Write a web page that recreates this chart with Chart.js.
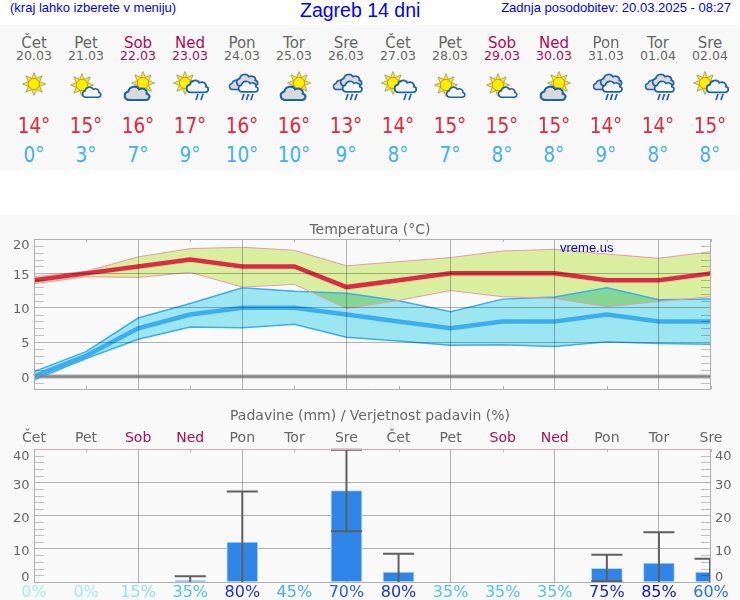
<!DOCTYPE html>
<html lang="sl">
<head>
<meta charset="utf-8">
<title>Zagreb 14 dni</title>
<script src="https://cdn.jsdelivr.net/npm/chart.js@4"></script>
<style>
  html, body { margin: 0; padding: 0; background: #fff; }
  #page { position: relative; width: 740px; height: 600px; overflow: hidden; font-family: "DejaVu Sans", sans-serif; }
  .top { position: absolute; color: #00f; font-family: "Liberation Sans", sans-serif; white-space: nowrap; }
  #hint { left: 10px; top: 0; font-size: 13px; line-height: 16px; }
  #head { left: 300px; top: -2px; font-size: 19.5px; line-height: 24px; }
  #stamp { right: 9px; top: 0; font-size: 13px; line-height: 16px; }
  #strip { position: absolute; left: 0; top: 25px; width: 740px; height: 145px; background: #f8f8f8; }
  #plots { position: absolute; left: 0; top: 215px; width: 740px; height: 385px; background: #f9f9f9; }
  .col { position: absolute; top: 25px; width: 52px; text-align: center; }
  .day { position: absolute; left: 0; width: 100%; top: 9px; font-size: 15px; line-height: 18px; }
  .date { position: absolute; left: 0; width: 100%; top: 24px; font-size: 12.5px; line-height: 14px; }
  .icon { position: absolute; left: 7px; top: 44px; width: 38px; height: 32px; }
  .max, .min { position: absolute; left: 0; width: 100%; font-family: "DejaVu Sans Condensed", "DejaVu Sans", sans-serif; font-size: 20.5px; line-height: 24px; }
  .max { top: 89px; color: #e02a42; }
  .min { top: 118px; color: #42b0f2; }
  canvas { position: absolute; left: 0; }
  #tempChart { top: 215px; }
  #rainChart { top: 400px; }
  #mark { position: absolute; left: 560px; top: 240px; color: #00f; font: 13px "Liberation Sans", sans-serif; }
</style>
</head>
<body>
<svg width="0" height="0" style="position:absolute">
  <defs>
    <g id="rays">
      <g fill="#f6ee10" stroke="#8d8d70" stroke-width="0.7">
        <path d="M0 -11.5 L2.6 -5 L-2.6 -5 Z"/>
        <path d="M0 -11.5 L2.6 -5 L-2.6 -5 Z" transform="rotate(45)"/>
        <path d="M0 -11.5 L2.6 -5 L-2.6 -5 Z" transform="rotate(90)"/>
        <path d="M0 -11.5 L2.6 -5 L-2.6 -5 Z" transform="rotate(135)"/>
        <path d="M0 -11.5 L2.6 -5 L-2.6 -5 Z" transform="rotate(180)"/>
        <path d="M0 -11.5 L2.6 -5 L-2.6 -5 Z" transform="rotate(225)"/>
        <path d="M0 -11.5 L2.6 -5 L-2.6 -5 Z" transform="rotate(270)"/>
        <path d="M0 -11.5 L2.6 -5 L-2.6 -5 Z" transform="rotate(315)"/>
      </g>
      <circle r="5.6" fill="#fff000" stroke="#f09020" stroke-width="1"/>
    </g>
    <path id="puff" d="M5 14 C0 14 -1 7 4 6 C5 1 12 0 14 4 C18 2 22 5 21 8 C25 9 24 14 20 14 Z" stroke="#1c62ac" stroke-width="1.9"/>
    <g id="drops2" stroke="#1c62ac" stroke-width="1.7" fill="none">
      <path d="M3 0 L1 6"/><path d="M8 0 L6 6"/>
    </g>
    <g id="drops3" stroke="#1c62ac" stroke-width="1.7" fill="none">
      <path d="M3 0 L1 6"/><path d="M7.5 0 L5.5 6"/><path d="M12 0 L10 6"/>
    </g>
    <symbol id="sun" viewBox="0 0 38 32"><use href="#rays" x="19" y="15"/></symbol>
    <symbol id="sunCloud" viewBox="0 0 38 32">
      <use href="#rays" x="15" y="16"/>
      <use href="#puff" transform="translate(15 17) scale(0.8)" fill="#f4f6fa"/>
    </symbol>
    <symbol id="cloudSun" viewBox="0 0 38 32">
      <use href="#rays" x="24" y="14"/>
      <use href="#puff" transform="translate(5 16) scale(1.08)" fill="#d9d9d9"/>
    </symbol>
    <symbol id="sunRain" viewBox="0 0 38 32">
      <use href="#rays" x="14" y="14"/>
      <use href="#puff" transform="translate(15 10) scale(0.95)" fill="#f4f6fa"/>
      <use href="#drops2" transform="translate(24 25)"/>
    </symbol>
    <symbol id="cloudRain" viewBox="0 0 38 32">
      <use href="#puff" transform="translate(6 10) scale(0.75)" fill="#d9d9d9"/>
      <use href="#puff" transform="translate(13 4) scale(0.92)" fill="#d9d9d9"/>
      <use href="#puff" transform="translate(15 11) scale(0.85)" fill="#f4f6fa"/>
      <use href="#drops3" transform="translate(18 25)"/>
    </symbol>
  </defs>
</svg>
<div id="page">
  <div id="strip"></div>
  <div id="plots"></div>
  <div class="top" id="hint">(kraj lahko izberete v meniju)</div>
  <div class="top" id="head">Zagreb 14 dni</div>
  <div class="top" id="stamp">Zadnja posodobitev: 20.03.2025 - 08:27</div>
  <canvas id="tempChart" width="740" height="180"></canvas>
  <canvas id="rainChart" width="740" height="200"></canvas>
  <div id="mark">vreme.us</div>
</div>
<script>
  var dayNames = ["Čet", "Pet", "Sob", "Ned", "Pon", "Tor", "Sre", "Čet", "Pet", "Sob", "Ned", "Pon", "Tor", "Sre"];
  var dates = ["20.03", "21.03", "22.03", "23.03", "24.03", "25.03", "26.03", "27.03", "28.03", "29.03", "30.03", "31.03", "01.04", "02.04"];
  var icons = ["sun", "sunCloud", "cloudSun", "sunRain", "cloudRain", "cloudSun", "cloudRain", "sunRain", "sunCloud", "sunCloud", "cloudSun", "cloudRain", "cloudRain", "sunRain"];

  var maxTemps = [14, 15, 16, 17, 16, 16, 13, 14, 15, 15, 15, 14, 14, 15];
  var minTemps = [0, 3, 7, 9, 10, 10, 9, 8, 7, 8, 8, 9, 8, 8];
  var maxBandHigh = [14.5, 15.3, 17.4, 18.6, 18.8, 18.35, 16.1, 16.7, 17.3, 18.25, 18.5, 17.8, 17.2, 18.15];
  var maxBandLow = [13.5, 14.5, 14.4, 15.15, 13, 13.4, 9.9, 11.05, 12.5, 11.6, 11.35, 10.15, 10.9, 11.6];
  var minBandHigh = [0.7, 3.6, 8.5, 10.6, 12.9, 12.4, 12.1, 11, 9.4, 11.25, 11.55, 12.9, 11.15, 11.25];
  var minBandLow = [-0.5, 2.6, 5.4, 7.2, 7.1, 7.6, 5.7, 5.15, 4.55, 4.6, 4.35, 5.05, 4.8, 4.7];
  var zeroLine = [0, 0, 0, 0, 0, 0, 0, 0, 0, 0, 0, 0, 0, 0];

  var rain = [0, 0, 0, 0.4, 12, 0, 27.5, 3, 0, 0, 0, 4.1, 5.7, 3];
  var rainHigh = [null, null, null, 1.7, 27.2, null, 39.8, 8.5, null, null, null, 8.2, 15, 7];
  var rainLow = [null, null, null, 0, 0, null, 15.3, 0, null, null, null, 0.2, 0, 0];
  var rainChance = [0, 0, 15, 35, 80, 45, 70, 80, 35, 35, 35, 75, 85, 60];
  var chanceColors = ["#a4ecfa", "#a4ecfa", "#8ee2fa", "#50c2f8", "#1c30d8", "#46aef6", "#2a5ee6", "#1c30d8", "#50c2f8", "#50c2f8", "#50c2f8", "#1428d0", "#0c10cc", "#2a70e8"];

  var GREY = "#666";
  var WEEKEND = "#b20a58";
  var GRID = "rgba(0,0,0,0.28)";

  function dayColor(name) { return name === "Sob" || name === "Ned" ? WEEKEND : GREY; }

  // header table above the plots
  var page = document.getElementById("page");
  dayNames.forEach(function (name, i) {
    var col = document.createElement("div");
    col.className = "col";
    col.style.left = (8 + 52 * i) + "px";
    col.innerHTML =
      '<div class="day" style="color:' + dayColor(name) + '">' + name + "</div>" +
      '<div class="date" style="color:' + dayColor(name) + '">' + dates[i] + "</div>" +
      '<svg class="icon"><use href="#' + icons[i] + '"/></svg>' +
      '<div class="max">' + maxTemps[i] + "°</div>" +
      '<div class="min">' + minTemps[i] + "°</div>";
    page.appendChild(col);
  });

  Chart.defaults.font.family = '"DejaVu Sans", sans-serif';
  Chart.defaults.color = GREY;

  // pin an axis box so the plot area lands where it should
  function fixBox(size) {
    return function (scale) {
      if (scale.isHorizontal()) { scale.height = size; } else { scale.width = size; }
      scale.paddingLeft = scale.paddingRight = scale.paddingTop = scale.paddingBottom = 0;
    };
  }

  // frame, short minor ticks, and the end labels that sit inside the plot range
  var plotFrame = {
    id: "plotFrame",
    beforeDraw: function (chart, args, opts) {
      ["y", "y2"].forEach(function (id) {
        var scale = chart.scales[id];
        if (!scale) return;
        scale.getLabelItems(chart.chartArea).forEach(function (item) {
          item.options.translation[1] += opts.nudge[item.label] || 0;
        });
      });
    },
    afterDraw: function (chart, args, opts) {
      var ctx = chart.ctx, a = chart.chartArea, y = chart.scales.y, x = chart.scales.x;
      ctx.save();
      ctx.lineWidth = 1;
      ctx.strokeStyle = "rgba(0,0,0,0.22)";
      ctx.beginPath();
      y.ticks.forEach(function (t) {
        if (t.value % opts.major === 0) return;
        var py = Math.round(y.getPixelForValue(t.value)) + 0.5;
        ctx.moveTo(a.left, py); ctx.lineTo(a.left + 10, py);
        ctx.moveTo(a.right - 10, py); ctx.lineTo(a.right, py);
      });
      ctx.stroke();
      ctx.strokeStyle = "#b0b0b0";
      ctx.beginPath();
      ctx.moveTo(a.left + 0.5, a.top); ctx.lineTo(a.left + 0.5, a.bottom);
      ctx.moveTo(a.right - 0.5, a.top); ctx.lineTo(a.right - 0.5, a.bottom);
      ctx.moveTo(a.left, a.bottom + 0.5); ctx.lineTo(a.right, a.bottom + 0.5);
      ctx.stroke();
      ctx.strokeStyle = opts.topColor;
      ctx.beginPath();
      ctx.moveTo(a.left, a.top + 0.5); ctx.lineTo(a.right, a.top + 0.5);
      dayNames.forEach(function (_, i) {
        if (i % 2 === 0) return;
        var px = Math.round(x.getPixelForValue(i)) + 0.5;
        ctx.moveTo(px, a.top); ctx.lineTo(px, a.top + 3);
      });
      ctx.stroke();
      if (opts.bottomTicks) {
        ctx.strokeStyle = "#b0b0b0";
        ctx.beginPath();
        dayNames.forEach(function (_, i) {
          if (i % 2 === 0) return;
          var px = Math.round(x.getPixelForValue(i)) + 0.5;
          ctx.moveTo(px, a.bottom - 3); ctx.lineTo(px, a.bottom);
        });
        ctx.stroke();
      }
      ctx.restore();
    }
  };

  // the two bands multiply where they overlap, that gives the green patches
  var bandBlend = {
    id: "bandBlend",
    beforeDraw: function (chart) { chart.ctx.globalCompositeOperation = "multiply"; },
    beforeDatasetsDraw: function (chart) { chart.ctx.globalCompositeOperation = "source-over"; }
  };

  var whiskers = {
    id: "whiskers",
    afterDatasetsDraw: function (chart) {
      var ctx = chart.ctx, a = chart.chartArea, x = chart.scales.x, y = chart.scales.y;
      ctx.save();
      ctx.beginPath();
      ctx.rect(a.left, a.top - 2, a.right - a.left, a.bottom - a.top + 4);
      ctx.clip();
      ctx.strokeStyle = "#5f5f5f";
      ctx.lineWidth = 2;
      ctx.beginPath();
      rainHigh.forEach(function (hi, i) {
        if (hi === null) return;
        var px = x.getPixelForValue(i);
        if (i === rainHigh.length - 1) px -= 1;
        var top = y.getPixelForValue(hi), low = y.getPixelForValue(rainLow[i]);
        ctx.moveTo(px, top); ctx.lineTo(px, low);
        ctx.moveTo(px - 15.5, top); ctx.lineTo(px + 15.5, top);
        if (rainLow[i] > 0) { ctx.moveTo(px - 15.5, low); ctx.lineTo(px + 15.5, low); }
      });
      ctx.stroke();
      ctx.restore();
    }
  };

  function bandEdge(values, color, width, fill) {
    return { data: values, borderColor: color, borderWidth: width, pointRadius: 0, tension: 0, backgroundColor: fill || "transparent", fill: fill ? "+1" : false };
  }

  function evenGrid(ctx) { return ctx.index % 2 === 0 ? GRID : "transparent"; }

  new Chart(document.getElementById("tempChart"), {
    type: "line",
    data: {
      labels: dayNames,
      datasets: [
        bandEdge(maxTemps, "#dc2c44", 4.5),
        bandEdge(minTemps, "#3caef0", 4.5),
        bandEdge(zeroLine, "#8c8c8c", 2.5),
        bandEdge(maxBandHigh, "#ee9aa0", 1, "#d9ee9e"),
        bandEdge(maxBandLow, "#ee9aa0", 1),
        bandEdge(minBandHigh, "#3caef0", 1.5, "#9be6f0"),
        bandEdge(minBandLow, "#3caef0", 1.5)
      ]
    },
    options: {
      responsive: false,
      animation: false,
      layout: { padding: { bottom: 6 } },
      plugins: {
        legend: { display: false },
        tooltip: { enabled: false },
        filler: { drawTime: "beforeDatasetsDraw" },
        title: { display: true, text: "Temperatura (°C)", color: GREY, font: { size: 14, weight: "normal" }, padding: { top: 7, bottom: 0.2 } },
        plotFrame: { major: 5, topColor: "#b0b0b0", bottomTicks: true, nudge: { "20": 7, "15": 2, "10": 2, "5": 2, "0": 2 } }
      },
      scales: {
        x: {
          ticks: { display: false },
          border: { display: false, z: 1 },
          grid: { color: evenGrid, tickLength: 0, z: 1, drawTicks: false },
          afterFit: fixBox(0)
        },
        y: {
          min: -1.83,
          max: 20,
          border: { display: false, z: 1 },
          grid: {
            z: 1,
            drawTicks: false,
            lineWidth: function (c) { return c.tick && c.tick.value === 0 ? 5 : 1; },
            color: function (c) {
              if (!c.tick) return "transparent";
              if (c.tick.value === 0) return "rgba(120,120,120,0.3)";
              return c.tick.value % 5 === 0 ? GRID : "transparent";
            }
          },
          ticks: {
            z: 1,
            stepSize: 1,
            includeBounds: false,
            autoSkip: false,
            padding: 4.5,
            color: GREY,
            font: { size: 13 },
            callback: function (v) { return v % 5 === 0 ? String(v) : ""; }
          },
          afterFit: fixBox(34)
        },
        gutter: {
          position: "right",
          min: -1.83,
          max: 20,
          border: { display: false, z: 1 },
          grid: { display: false, z: 1, drawTicks: false },
          ticks: { display: false, z: 1 },
          afterFit: fixBox(29)
        }
      }
    },
    plugins: [bandBlend, plotFrame]
  });

  function rainTicks(v) { return v % 10 === 0 ? String(v) : ""; }

  new Chart(document.getElementById("rainChart"), {
    type: "bar",
    data: {
      labels: dayNames,
      datasets: [{ data: rain, backgroundColor: "#2f86e8", borderColor: "#b4d6f6", borderWidth: 1, barThickness: 31, xAxisID: "x", yAxisID: "y" }]
    },
    options: {
      responsive: false,
      animation: false,
      plugins: {
        legend: { display: false },
        tooltip: { enabled: false },
        title: { display: true, text: "Padavine (mm) / Verjetnost padavin (%)", color: GREY, font: { size: 14, weight: "normal" }, padding: { top: 7.6, bottom: 0 } },
        plotFrame: { major: 10, topColor: "#e2a2ba", bottomTicks: false, nudge: { "40": 8, "30": 3, "20": 3, "10": 3, "0": -4 } }
      },
      scales: {
        x: {
          position: "top",
          offset: false,
          border: { display: false },
          grid: { offset: false, color: evenGrid, drawTicks: false },
          ticks: {
            maxRotation: 0,
            autoSkip: false,
            padding: 2,
            font: { size: 14 },
            color: function (c) { return dayColor(dayNames[c.index]); }
          },
          afterFit: fixBox(24.6)
        },
        chance: {
          type: "category",
          position: "bottom",
          offset: false,
          labels: rainChance.map(function (v) { return v + "%"; }),
          border: { display: false },
          grid: { display: false, drawTicks: false },
          ticks: {
            maxRotation: 0,
            autoSkip: false,
            padding: 1,
            font: { size: 16 },
            color: function (c) { return chanceColors[c.index]; }
          },
          afterFit: fixBox(18)
        },
        y: {
          min: 0,
          max: 40,
          border: { display: false },
          grid: {
            drawTicks: false,
            color: function (c) { return c.tick && c.tick.value % 10 === 0 ? GRID : "transparent"; }
          },
          ticks: { stepSize: 2, autoSkip: false, padding: 4.5, color: GREY, font: { size: 13 }, callback: rainTicks },
          afterFit: fixBox(34)
        },
        y2: {
          min: 0,
          max: 40,
          position: "right",
          border: { display: false },
          grid: { display: false, drawTicks: false },
          ticks: { stepSize: 2, autoSkip: false, padding: 4, color: GREY, font: { size: 13 }, callback: rainTicks },
          afterFit: fixBox(29)
        }
      }
    },
    plugins: [plotFrame, whiskers]
  });
</script>
</body>
</html>
